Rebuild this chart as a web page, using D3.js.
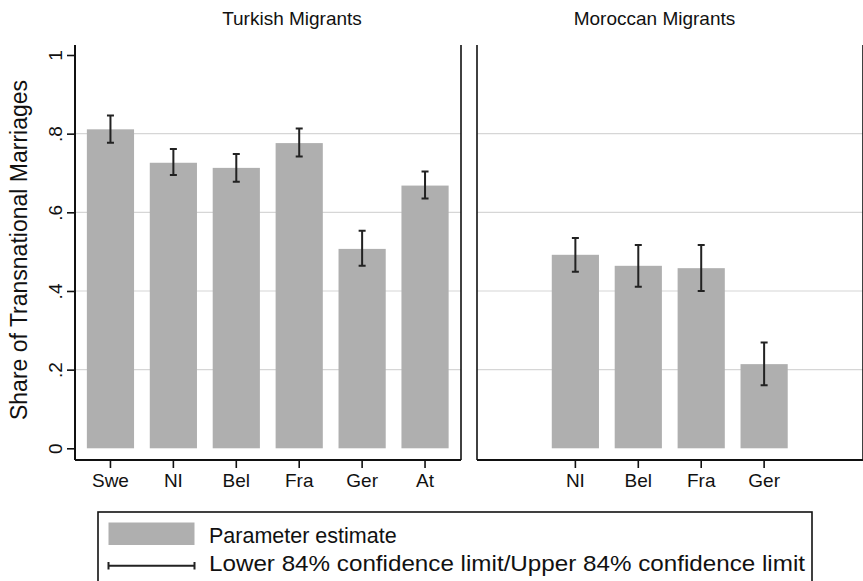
<!DOCTYPE html>
<html>

<head>
  <meta charset="UTF-8">
  <title>transnational-marriages</title>
  <style type="text/css">
    body {
      margin: 0;
      background: #fff;
    }

    svg text {
      font-family: "Liberation Sans", Arial, sans-serif;
      fill: #111;
    }

    .bar {
      fill: #afafaf;
    }

    .grid line {
      stroke: #d6d6d6;
      stroke-width: 1.2px;
    }

    .ci {
      fill: none;
      stroke: #222;
      stroke-width: 2px;
    }

    .axis path,
    .axis line {
      stroke: #111;
    }
  </style>
</head>

<body>
  <div class="svg-zone"></div>
  <script src="https://cdn.jsdelivr.net/npm/d3@7"></script>
  <script type="text/javascript">
    // categories
    var countries = ["Swe", "NI", "Bel", "Fra", "Ger", "At"];
    var panelTitles = ["Turkish Migrants", "Moroccan Migrants"];

    // Turkish migrants
    var turkishCountries = ["Swe", "NI", "Bel", "Fra", "Ger", "At"];
    var turkishEst = [0.811, 0.726, 0.713, 0.776, 0.507, 0.668];
    var turkishLo = [0.777, 0.695, 0.678, 0.742, 0.464, 0.635];
    var turkishHi = [0.846, 0.761, 0.748, 0.813, 0.553, 0.704];

    // Moroccan migrants
    var moroccanCountries = ["NI", "Bel", "Fra", "Ger"];
    var moroccanEst = [0.492, 0.464, 0.458, 0.214];
    var moroccanLo = [0.449, 0.411, 0.400, 0.160];
    var moroccanHi = [0.535, 0.517, 0.517, 0.269];

    var yTicks = [0, 0.2, 0.4, 0.6, 0.8, 1];
    var yTickLabels = ["0", ".2", ".4", ".6", ".8", "1"];
    var gridTicks = [0.2, 0.4, 0.6, 0.8];

    var yTitle = "Share of Transnational Marriages";
    var legendLabels = ["Parameter estimate", "Lower 84% confidence limit/Upper 84% confidence limit"];

    var width = 863,
      height = 581,
      plotTop = 45,
      plotBottom = 460,
      panelW = 386,
      panelLefts = [75, 477];

    var y = d3.scaleLinear()
      .domain([0, 1])
      .range([448.3, 55]);

    var x = d3.scaleBand()
      .domain(countries)
      .range([4, 381.5])
      .paddingInner(0.25)
      .paddingOuter(0.125);

    var svg = d3.select(".svg-zone").append("svg")
      .attr("width", width)
      .attr("height", height);

    var panels = [
      { cats: turkishCountries, est: turkishEst, lo: turkishLo, hi: turkishHi, titleX: 217 },
      { cats: moroccanCountries, est: moroccanEst, lo: moroccanLo, hi: moroccanHi, titleX: 177.5 }
    ];

    panels.forEach(function (p, pi) {
      var g = svg.append("g")
        .attr("transform", "translate(" + panelLefts[pi] + ",0)");

      var rows = p.cats.map(function (c, i) {
        return { c: c, est: p.est[i], lo: p.lo[i], hi: p.hi[i] };
      });

      // grid
      g.append("g").attr("class", "grid")
        .selectAll("line")
        .data(gridTicks)
        .enter().append("line")
        .attr("x1", 0)
        .attr("x2", panelW)
        .attr("y1", function (d) { return y(d); })
        .attr("y2", function (d) { return y(d); });

      // bars
      g.selectAll(".bar")
        .data(rows)
        .enter().append("rect")
        .attr("class", "bar")
        .attr("x", function (d) { return x(d.c); })
        .attr("width", x.bandwidth())
        .attr("y", function (d) { return y(d.est); })
        .attr("height", function (d) { return y(0) - y(d.est); });

      // confidence intervals
      var cap = 3.5;
      g.selectAll(".ci")
        .data(rows)
        .enter().append("path")
        .attr("class", "ci")
        .attr("d", function (d) {
          var cx = x(d.c) + x.bandwidth() / 2;
          return "M" + (cx - cap) + "," + y(d.hi) + "H" + (cx + cap) +
            "M" + cx + "," + y(d.hi) + "V" + y(d.lo) +
            "M" + (cx - cap) + "," + y(d.lo) + "H" + (cx + cap);
        });

      // frame: left + right sides
      g.append("line")
        .attr("x1", 0).attr("x2", 0)
        .attr("y1", plotTop).attr("y2", plotBottom)
        .attr("stroke", "#111").attr("stroke-width", pi == 0 ? 2 : 1.6);
      g.append("line")
        .attr("x1", panelW).attr("x2", panelW)
        .attr("y1", plotTop).attr("y2", plotBottom)
        .attr("stroke", "#111").attr("stroke-width", 1.6);

      // x axis
      var xAxis = g.append("g")
        .attr("class", "axis")
        .attr("transform", "translate(0," + plotBottom + ")")
        .call(d3.axisBottom(x).tickValues(p.cats).tickSize(8).tickPadding(6).tickSizeOuter(0));
      xAxis.select(".domain")
        .attr("d", "M0,0H" + panelW)
        .attr("stroke-width", 2.2);
      xAxis.selectAll(".tick line").attr("stroke-width", 1.6);
      xAxis.selectAll(".tick text")
        .attr("font-size", 19)
        .attr("fill", "#111");

      // panel title
      g.append("text")
        .attr("x", p.titleX)
        .attr("y", 25)
        .attr("text-anchor", "middle")
        .attr("font-size", 19)
        .text(panelTitles[pi]);
    });

    // y axis on the left panel
    var yAxis = svg.append("g")
      .attr("class", "axis")
      .attr("transform", "translate(" + panelLefts[0] + ",0)")
      .call(d3.axisLeft(y).tickValues(yTicks).tickSize(8).tickSizeOuter(0)
        .tickFormat(function (d, i) { return yTickLabels[i]; }));
    yAxis.select(".domain").remove();
    yAxis.selectAll(".tick line").attr("stroke-width", 1.6);
    yAxis.selectAll(".tick text")
      .attr("x", null).attr("dy", null)
      .attr("text-anchor", "middle")
      .attr("font-size", 19)
      .attr("fill", "#111")
      .attr("transform", "translate(-13,0) rotate(-90)");

    svg.append("text")
      .attr("transform", "translate(27,250) rotate(-90)")
      .attr("text-anchor", "middle")
      .attr("font-size", 23)
      .text(yTitle);

    // legend
    var leg = svg.append("g").attr("transform", "translate(98,512)");
    leg.append("rect")
      .attr("width", 714).attr("height", 80)
      .attr("fill", "#fff").attr("stroke", "#111").attr("stroke-width", 1.6);
    leg.append("rect")
      .attr("class", "bar")
      .attr("x", 10.5).attr("y", 10.5)
      .attr("width", 86).attr("height", 22.5);
    leg.append("path")
      .attr("class", "ci")
      .attr("stroke-width", 1.6)
      .attr("d", "M10.5,50V57.5M10.5,53.8H96.5M96.5,50V57.5");
    leg.selectAll(".legtext")
      .data(legendLabels)
      .enter().append("text")
      .attr("x", 111)
      .attr("y", function (d, i) { return 30.5 + i * 28; })
      .attr("font-size", 21.5)
      .attr("textLength", function (d, i) { return i == 1 ? 596 : null; })
      .attr("lengthAdjust", "spacingAndGlyphs")
      .text(function (d) { return d; });
  </script>

</body>

</html>
